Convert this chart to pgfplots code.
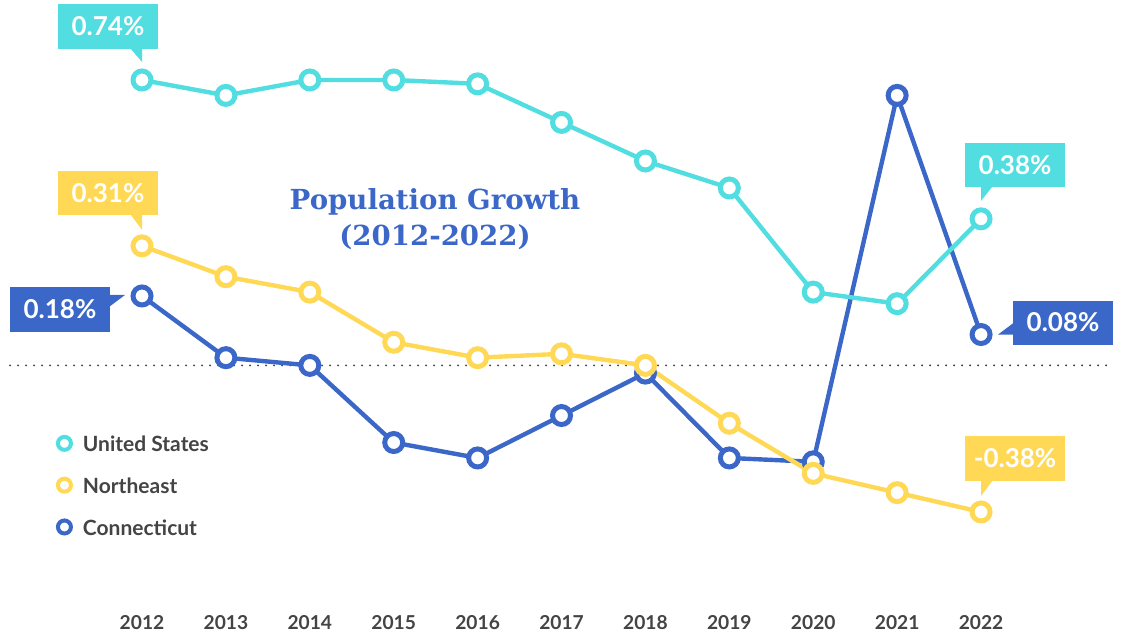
\documentclass[border=0pt]{standalone}
\usepackage{fontspec}
\setmainfont{Lato}
\newfontfamily\titlefont{DejaVu Serif}
\usepackage{pgfplots}
\pgfplotsset{compat=1.18}
\definecolor{usC}{HTML}{52DEE0}
\definecolor{neC}{HTML}{FFD956}
\definecolor{ctC}{HTML}{3B68C8}
\definecolor{txC}{HTML}{444444}
\begin{document}
\begin{tikzpicture}
\begin{axis}[
  scale only axis, width=561pt, height=317pt,
  xmin=2010.3075, xmax=2023.680, ymin=-0.6964, ymax=0.9474,
  axis line style={draw=none}, tick style={draw=none},
  major tick length=0pt,
  ytick=\empty,
  xtick={2012,2013,2014,2015,2016,2017,2018,2019,2020,2021,2022},
  xticklabels={2012,2013,2014,2015,2016,2017,2018,2019,2020,2021,2022},
  xticklabel style={anchor=base, yshift=2pt, font=\fontsize{9.6}{10}\selectfont\bfseries, text=txC},
  clip=false,
  reverse legend,
  legend cell align=left,
  legend style={draw=none, fill=none, inner sep=0pt,
    at={(rel axis cs:0.0495,0.3147)}, anchor=north west,
    font=\fontsize{10.5}{12}\selectfont\bfseries, text=txC,
    row sep=11pt,
    nodes={inner sep=0pt},
    /tikz/every odd column/.append style={column sep=5pt}},
  legend image code/.code={\draw[#1, solid, line width=2pt, fill=white] (0pt,1pt) circle (3.25pt);},
]
\addplot[forget plot, txC, line width=1.1pt, line cap=round, dash pattern=on 0pt off 4pt]
  coordinates {(2010.427,0) (2023.561,0)};
\addplot[ctC, line width=2.2pt, mark=*, mark size=4.5pt, mark options={solid, fill=white, draw=ctC, line width=2.5pt}]
  coordinates {(2012,0.18) (2013,0.02) (2014,0.00) (2015,-0.20) (2016,-0.24) (2017,-0.13) (2018,-0.02) (2019,-0.24) (2020,-0.25) (2021,0.70) (2022,0.08)};
\addlegendentry{Connecticut}
\addplot[neC, line width=2.2pt, mark=*, mark size=4.5pt, mark options={solid, fill=white, draw=neC, line width=2.5pt}]
  coordinates {(2012,0.31) (2013,0.23) (2014,0.19) (2015,0.06) (2016,0.02) (2017,0.03) (2018,0.00) (2019,-0.15) (2020,-0.28) (2021,-0.33) (2022,-0.38)};
\addlegendentry{Northeast}
\addplot[usC, line width=2.2pt, mark=*, mark size=4.5pt, mark options={solid, fill=white, draw=usC, line width=2.5pt}]
  coordinates {(2012,0.74) (2013,0.70) (2014,0.74) (2015,0.74) (2016,0.73) (2017,0.63) (2018,0.53) (2019,0.46) (2020,0.19) (2021,0.16) (2022,0.38)};
\addlegendentry{United States}
\coordinate (pA) at (axis cs:2012,0.74);
\coordinate (pB) at (axis cs:2012,0.31);
\coordinate (pC) at (axis cs:2012,0.18);
\coordinate (pD) at (axis cs:2022,0.38);
\coordinate (pE) at (axis cs:2022,0.08);
\coordinate (pF) at (axis cs:2022,-0.38);
\node[align=center, font=\titlefont\bfseries\fontsize{13.8}{18}\selectfont, text=ctC] at (axis cs:2015.492,0.380) {Population Growth\\(2012-2022)};
\end{axis}
\tikzset{cl/.style={text=white, font=\fontsize{13}{14}\selectfont\bfseries, anchor=center, inner sep=0pt}}
% 0.74%
\fill[usC] ([shift={(-42pt,15.5pt)}]pA) rectangle ([shift={(8pt,38pt)}]pA);
\fill[usC] ([shift={(-6pt,16pt)}]pA) -- ([shift={(0pt,16pt)}]pA) -- ([shift={(0pt,9pt)}]pA) -- cycle;
\node[cl] at ([shift={(-17pt,26.75pt)}]pA) {0.74\%};
% 0.31%
\fill[neC] ([shift={(-42pt,15.5pt)}]pB) rectangle ([shift={(8pt,37.5pt)}]pB);
\fill[neC] ([shift={(-6pt,16pt)}]pB) -- ([shift={(0pt,16pt)}]pB) -- ([shift={(0pt,8pt)}]pB) -- cycle;
\node[cl] at ([shift={(-17pt,26.5pt)}]pB) {0.31\%};
% 0.18%
\fill[ctC] ([shift={(-66pt,4.5pt)}]pC) rectangle ([shift={(-16pt,-18pt)}]pC);
\fill[ctC] ([shift={(-16.5pt,0.5pt)}]pC) -- ([shift={(-8.5pt,0.5pt)}]pC) -- ([shift={(-16.5pt,-5.5pt)}]pC) -- cycle;
\node[cl] at ([shift={(-41pt,-6.75pt)}]pC) {0.18\%};
% 0.38%
\fill[usC] ([shift={(-8pt,16pt)}]pD) rectangle ([shift={(42pt,38pt)}]pD);
\fill[usC] ([shift={(0pt,16.5pt)}]pD) -- ([shift={(6pt,16.5pt)}]pD) -- ([shift={(0pt,9pt)}]pD) -- cycle;
\node[cl] at ([shift={(17pt,27pt)}]pD) {0.38\%};
% 0.08%
\fill[ctC] ([shift={(16pt,17pt)}]pE) rectangle ([shift={(66pt,-5pt)}]pE);
\fill[ctC] ([shift={(16.5pt,6pt)}]pE) -- ([shift={(8.5pt,0pt)}]pE) -- ([shift={(16.5pt,0pt)}]pE) -- cycle;
\node[cl] at ([shift={(41pt,6pt)}]pE) {0.08\%};
% -0.38%
\fill[neC] ([shift={(-8pt,15.5pt)}]pF) rectangle ([shift={(42pt,38pt)}]pF);
\fill[neC] ([shift={(0pt,16pt)}]pF) -- ([shift={(6pt,16pt)}]pF) -- ([shift={(0pt,8pt)}]pF) -- cycle;
\node[cl] at ([shift={(17pt,26.75pt)}]pF) {-0.38\%};
\end{tikzpicture}
\end{document}
